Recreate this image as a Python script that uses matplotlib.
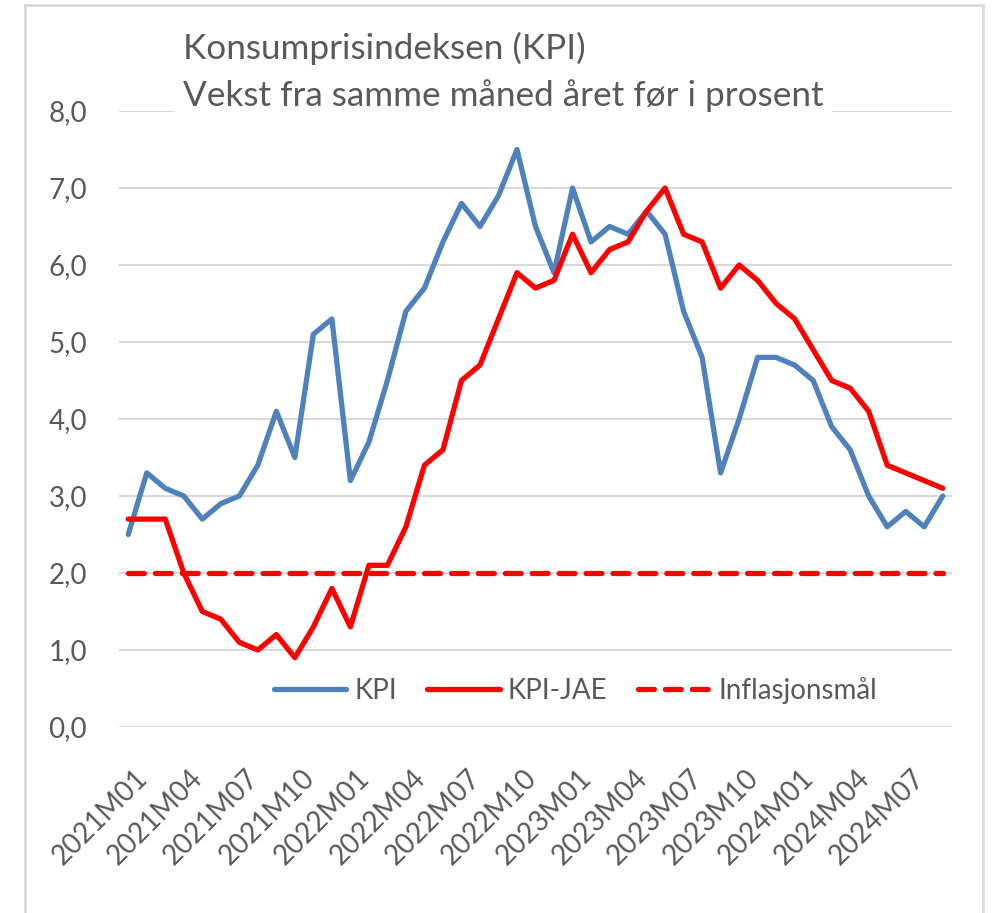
import numpy as np
import matplotlib.pyplot as plt
from matplotlib.patches import Rectangle
from matplotlib.transforms import ScaledTranslation

# Data: 12-month growth, 2021M01 - 2024M09
months = [f"{y}M{m:02d}" for y in range(2021, 2025) for m in range(1, 13)][:45]
kpi = [2.5, 3.3, 3.1, 3.0, 2.7, 2.9, 3.0, 3.4, 4.1, 3.5, 5.1, 5.3,
       3.2, 3.7, 4.5, 5.4, 5.7, 6.3, 6.8, 6.5, 6.9, 7.5, 6.5, 5.9,
       7.0, 6.3, 6.5, 6.4, 6.7, 6.4, 5.4, 4.8, 3.3, 4.0, 4.8, 4.8,
       4.7, 4.5, 3.9, 3.6, 3.0, 2.6, 2.8, 2.6, 3.0]
kpi_jae = [2.7, 2.7, 2.7, 2.0, 1.5, 1.4, 1.1, 1.0, 1.2, 0.9, 1.3, 1.8,
           1.3, 2.1, 2.1, 2.6, 3.4, 3.6, 4.5, 4.7, 5.3, 5.9, 5.7, 5.8,
           6.4, 5.9, 6.2, 6.3, 6.7, 7.0, 6.4, 6.3, 5.7, 6.0, 5.8, 5.5,
           5.3, 4.9, 4.5, 4.4, 4.1, 3.4, 3.3, 3.2, 3.1]
target = [2.0] * len(months)
yticks = [0, 1, 2, 3, 4, 5, 6, 7, 8]

plt.rcParams['font.family'] = ['Lato', 'DejaVu Sans']
txt = '#595959'

fig = plt.figure(figsize=(9.95, 9.13), dpi=100)
ax = fig.add_axes([119 / 995, 1 - 727 / 913, 833 / 995, 616 / 913])

# outer chart border
fig.patches.append(Rectangle((25 / 995, -0.05), 958 / 995, 1.05 - 5 / 913,
                             transform=fig.transFigure, fill=False,
                             edgecolor='#D9D9D9', linewidth=2))

x = np.arange(len(months))
ax.plot(x, kpi, color='#4F81BD', lw=3.8, solid_capstyle='round',
        solid_joinstyle='round', label='KPI', zorder=3)
ax.plot(x, kpi_jae, color='#FF0000', lw=3.8, solid_capstyle='round',
        solid_joinstyle='round', label='KPI-JAE', zorder=3)
ax.plot(x, target, color='#FF0000', lw=3.8, dash_capstyle='round',
        dashes=(3.0, 2.1), label='Inflasjonsmål', zorder=2)

ax.set_xlim(-0.5, len(months) - 0.5)
ax.set_ylim(0, 8)
ax.set_yticks(yticks)
ax.set_yticklabels([f"{v:.1f}".replace('.', ',') for v in yticks])
ax.yaxis.grid(True, color='#D9D9D9', lw=1.5)
ax.set_axisbelow(True)
for s in ax.spines.values():
    s.set_visible(False)

ax.set_xticks(x[::3])
ax.set_xticklabels(months[::3], rotation=45, ha='right', va='top',
                   rotation_mode='anchor')
ax.tick_params(axis='both', length=0, colors=txt)
ax.tick_params(axis='y', pad=23, labelsize=20)
ax.tick_params(axis='x', pad=27, labelsize=20)
shift = ScaledTranslation(6 / 100, 0, fig.dpi_scale_trans)
for lab in ax.get_xticklabels():
    lab.set_transform(lab.get_transform() + shift)

leg = ax.legend(loc='center', bbox_to_anchor=(0.548, 0.06), ncol=3,
                frameon=False, fontsize=20, handlelength=2.6,
                columnspacing=1.1, handletextpad=0.3)
for t in leg.get_texts():
    t.set_color(txt)

fig.text(183 / 995, 1 - 72 / 913,
         'Konsumprisindeksen (KPI)\nVekst fra samme måned året før i prosent',
         fontsize=25.3, color=txt, ha='left', va='center', linespacing=1.5,
         bbox=dict(facecolor='white', edgecolor='none', pad=6))

fig.savefig('out.png', dpi=100)
